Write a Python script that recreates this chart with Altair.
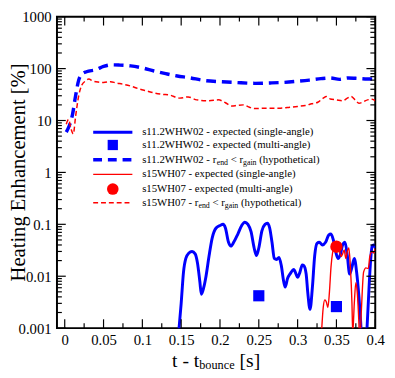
import altair as alt
import pandas as pd

FONT = "Liberation Serif"
W, H = 325, 318
BLUE = "#0000ff"
RED = "#ff0000"

# ---------------- data ----------------
# s11.2WHW02 - r_end < r_gain (hypothetical)
blue_dash_t = [0.002, 0.006, 0.010, 0.014, 0.018, 0.022, 0.028, 0.040, 0.050, 0.060, 0.070, 0.085,
               0.100, 0.115, 0.130, 0.145, 0.160, 0.180, 0.200, 0.220, 0.245, 0.265, 0.280, 0.300,
               0.315, 0.330, 0.342, 0.354, 0.365, 0.375, 0.390, 0.398]
blue_dash_v = [6, 8, 13, 30, 60, 78, 87, 95, 110, 118, 117, 113,
               103, 90, 80, 72, 67, 59, 56, 54, 52, 53, 54, 57,
               60, 64, 66, 62, 66, 65, 63, 63]

# s15WH07 - r_end < r_gain (hypothetical)
red_dash_t = [0.002, 0.005, 0.008, 0.011, 0.014, 0.018, 0.022, 0.027, 0.031, 0.036, 0.043, 0.050,
              0.059, 0.066, 0.075, 0.085, 0.095, 0.106, 0.115, 0.125, 0.135, 0.148, 0.159, 0.170,
              0.186, 0.198, 0.207, 0.215, 0.222, 0.230, 0.238, 0.245, 0.258, 0.278, 0.290, 0.300,
              0.310, 0.318, 0.326, 0.333, 0.337, 0.342, 0.350, 0.358, 0.364, 0.369, 0.374, 0.379,
              0.385, 0.390, 0.396, 0.400]
red_dash_v = [8.5, 10.5, 7, 5.5, 12, 30, 48, 58, 63, 58, 55, 54,
              56, 53, 50, 46, 41, 37, 34, 32, 31, 27, 28.5, 25,
              24, 25, 22, 19, 19.5, 20, 18, 17, 17.3, 17.3, 18, 18.7,
              19.5, 21, 22.5, 27, 29, 26, 25, 24, 27, 29, 25, 21.5,
              23, 25, 25.6, 24]

# s11.2WHW02 - expected (single-angle)
blue_t = [0.146, 0.150, 0.153, 0.156, 0.160, 0.164, 0.168, 0.171, 0.174, 0.176, 0.179, 0.182,
          0.186, 0.190, 0.195, 0.200, 0.204, 0.207, 0.211, 0.214, 0.218, 0.223, 0.228, 0.232,
          0.236, 0.240, 0.244, 0.247, 0.250, 0.254, 0.258, 0.261, 0.264, 0.267, 0.270, 0.273,
          0.276, 0.279, 0.282, 0.284, 0.287, 0.291, 0.295, 0.298, 0.300, 0.303, 0.306, 0.308,
          0.311, 0.313, 0.316, 0.319, 0.322, 0.325, 0.328, 0.332, 0.336, 0.340, 0.343, 0.346,
          0.349, 0.352, 0.355, 0.358, 0.361, 0.364, 0.367, 0.370, 0.373, 0.376, 0.379, 0.381,
          0.383, 0.388, 0.390, 0.392, 0.394, 0.396, 0.398, 0.400]
blue_v = [0.0006, 0.003, 0.012, 0.022, 0.028, 0.030, 0.027, 0.018, 0.008, 0.0045, 0.006, 0.010,
          0.025, 0.055, 0.085, 0.095, 0.100, 0.085, 0.045, 0.038, 0.046, 0.065, 0.095, 0.110,
          0.100, 0.072, 0.035, 0.025, 0.035, 0.075, 0.100, 0.105, 0.085, 0.045, 0.022, 0.021,
          0.023, 0.016, 0.008, 0.0062, 0.009, 0.0115, 0.0135, 0.011, 0.0095, 0.012, 0.0165, 0.016,
          0.011, 0.005, 0.0023, 0.006, 0.025, 0.043, 0.045, 0.040, 0.045, 0.062, 0.065, 0.050,
          0.030, 0.022, 0.026, 0.040, 0.045, 0.025, 0.011, 0.015, 0.022, 0.012, 0.004, 0.0015,
          0.0005, 0.0005, 0.0015, 0.006, 0.020, 0.038, 0.040, 0.035]

# s15WH07 - expected (single-angle)
red_t = [0.330, 0.333, 0.335, 0.337, 0.339, 0.341, 0.343, 0.345, 0.347, 0.350, 0.353, 0.356,
         0.358, 0.360, 0.362, 0.364, 0.366, 0.368, 0.370, 0.371, 0.373, 0.375, 0.377, 0.379,
         0.380, 0.382, 0.385, 0.388, 0.391, 0.393, 0.396, 0.398, 0.400]
red_v = [0.0005, 0.0025, 0.0035, 0.0032, 0.0025, 0.005, 0.015, 0.028, 0.036, 0.040, 0.035, 0.024,
         0.027, 0.032, 0.022, 0.030, 0.035, 0.015, 0.003, 0.0008, 0.003, 0.0075, 0.0045, 0.0012,
         0.0005, 0.002, 0.012, 0.0145, 0.014, 0.024, 0.030, 0.028, 0.034]

# multi-angle markers
blue_sq_t = [0.25, 0.35]
blue_sq_v = [0.0042, 0.0026]
red_circ_t = [0.35]
red_circ_v = [0.037]

# ticks
x_major = [0, 0.05, 0.1, 0.15, 0.2, 0.25, 0.3, 0.35, 0.4]
x_minor = [0.025, 0.075, 0.125, 0.175, 0.225, 0.275, 0.325, 0.375]
y_major = [0.001, 0.01, 0.1, 1, 10, 100, 1000]
y_minor = [k * 10.0 ** e for e in range(-3, 3) for k in range(2, 10)]

legend_rows = [
    ["s11.2WHW02 - expected (single-angle)"],
    ["s11.2WHW02 - expected (multi-angle)"],
    ["s11.2WHW02 - r", "end", " < r", "gain", " (hypothetical)"],
    ["s15WH07 - expected (single-angle)"],
    ["s15WH07 - expected (multi-angle)"],
    ["s15WH07 - r", "end", " < r", "gain", " (hypothetical)"],
]

# ---------------- helpers ----------------
TIMES = {" ": 250, "s": 389, "1": 500, ".": 250, "2": 500, "W": 944, "H": 722, "0": 500,
         "-": 333, "r": 333, "e": 444, "n": 500, "d": 500, "<": 564, "g": 500, "a": 444,
         "i": 278, "(": 333, ")": 333, "h": 500, "y": 500, "p": 500, "o": 500, "t": 278,
         "c": 444, "l": 278, "5": 500, "7": 500, "x": 500, "m": 778, "u": 500, "b": 500,
         "[": 333, "]": 333, "%": 833, "E": 611}


def tw(s, fs):
    return sum(TIMES.get(c, 500) for c in s) * fs / 1000.0


one = pd.DataFrame({"a": [0]})
xs = alt.Scale(domain=[-0.01, 0.4], nice=False, zero=False)
ys = alt.Scale(type="log", domain=[0.001, 1000], nice=False)
XAX = alt.Axis(values=x_major, format="~g", title=None, labelFlush=False, labelPadding=5,
               labelOverlap=False, ticks=False, domain=False, grid=False, tickSize=0,
               labelFont=FONT, labelFontSize=15, labelColor="black")
YAX = alt.Axis(values=y_major, format="~g", title=None, labelFlush=False, labelPadding=6,
               labelOverlap=False, ticks=False, domain=False, grid=False, tickSize=0,
               labelFont=FONT, labelFontSize=15, labelColor="black")


def XE(field="t"):
    return alt.X(f"{field}:Q", scale=xs, axis=XAX, title=None)


def YE(field="v"):
    return alt.Y(f"{field}:Q", scale=ys, axis=YAX, title=None)


def txt(s, x, y, fs, **kw):
    return alt.Chart(one).mark_text(text=s, font=FONT, fontSize=fs, color="black",
                                    align=kw.pop("align", "left"),
                                    baseline=kw.pop("baseline", "middle"), **kw).encode(
        x=alt.value(x), y=alt.value(y))


def segments(parts, x0, y, fs, sub_fs, sub_dy, main_idx=(0, 2, 4)):
    out = []
    x = x0
    for i, p in enumerate(parts):
        size = fs if i in main_idx else sub_fs
        dy = 0 if i in main_idx else sub_dy
        lead = len(p) - len(p.lstrip(" "))
        xx = x + tw(" " * lead, size)
        out.append(txt(p.lstrip(" "), xx, y + dy, size))
        x += tw(p, size)
    return out


def line_df(t, v):
    return pd.DataFrame({"t": t, "v": v})


layers = []
layers.append(alt.Chart(line_df(blue_dash_t, blue_dash_v)).mark_line(
    color=BLUE, strokeWidth=3.5, strokeDash=[10, 6], clip=True, interpolate="monotone").encode(
    x=XE(), y=YE()))
layers.append(alt.Chart(line_df(red_dash_t, red_dash_v)).mark_line(
    color=RED, strokeWidth=1.5, strokeDash=[5, 3], clip=True, interpolate="monotone").encode(
    x=XE(), y=YE()))
layers.append(alt.Chart(line_df(blue_t, blue_v)).mark_line(
    color=BLUE, strokeWidth=3, clip=True, interpolate="monotone").encode(x=XE(), y=YE()))
layers.append(alt.Chart(line_df(red_t, red_v)).mark_line(
    color=RED, strokeWidth=1.4, clip=True, interpolate="monotone").encode(x=XE(), y=YE()))
layers.append(alt.Chart(line_df(blue_sq_t, blue_sq_v)).mark_point(
    shape="square", filled=True, size=130, color=BLUE, opacity=1).encode(x=XE(), y=YE()))
layers.append(alt.Chart(line_df(red_circ_t, red_circ_v)).mark_circle(
    size=160, color=RED, opacity=1).encode(x=XE(), y=YE()))

# inward ticks on all four sides
xmaj = pd.DataFrame({"t": x_major})
xmin = pd.DataFrame({"t": x_minor})
ymaj = pd.DataFrame({"v": y_major})
ymin = pd.DataFrame({"v": y_minor})
TK = dict(color="black", strokeWidth=1.2)
for df, L in ((xmaj, 9), (xmin, 5)):
    layers.append(alt.Chart(df).mark_rule(**TK).encode(x=XE(), y=alt.value(H), y2=alt.value(H - L)))
    layers.append(alt.Chart(df).mark_rule(**TK).encode(x=XE(), y=alt.value(0), y2=alt.value(L)))
for df, L in ((ymaj, 9), (ymin, 5)):
    layers.append(alt.Chart(df).mark_rule(**TK).encode(y=YE(), x=alt.value(0), x2=alt.value(L)))
    layers.append(alt.Chart(df).mark_rule(**TK).encode(y=YE(), x=alt.value(W), x2=alt.value(W - L)))

# legend
row_y = [118, 131, 146, 161, 176, 190]
lx0, lx1, ltx = 37, 77, 87
styles = [
    ("line", BLUE, 3, None),
    ("square", BLUE, None, None),
    ("line", BLUE, 3.5, [9, 6]),
    ("line", RED, 1.4, None),
    ("circle", RED, None, None),
    ("line", RED, 1.5, [5, 3]),
]
for (kind, col, sw, dash), ry, parts in zip(styles, row_y, legend_rows):
    if kind == "line":
        kw = dict(color=col, strokeWidth=sw)
        if dash:
            kw["strokeDash"] = dash
        layers.append(alt.Chart(one).mark_rule(**kw).encode(
            x=alt.value(lx0), x2=alt.value(lx1), y=alt.value(ry)))
    elif kind == "square":
        layers.append(alt.Chart(one).mark_point(shape="square", filled=True, size=110,
                                                color=col, opacity=1).encode(
            x=alt.value((lx0 + lx1) / 2), y=alt.value(ry)))
    else:
        layers.append(alt.Chart(one).mark_circle(size=140, color=col, opacity=1).encode(
            x=alt.value((lx0 + lx1) / 2), y=alt.value(ry)))
    layers.extend(segments(parts, ltx, ry, 11, 8, 3))

# axis titles
layers.append(txt("Heating Enhancement [%]", -33, H / 2, 21, angle=270,
                  align="center", baseline="alphabetic"))
xt_parts = ["t - t", "bounce", " [s]"]
xt_w = tw(xt_parts[0], 20) + tw(xt_parts[1], 12.5) + tw(xt_parts[2], 20)
xt0 = W / 2 - xt_w / 2
layers.extend(segments(xt_parts, xt0, 352, 20, 12.5, 4, main_idx=(0, 2)))

chart = alt.layer(*layers).properties(
    width=W, height=H, autosize="none",
    padding={"left": 50, "top": 5, "right": 12, "bottom": 45},
).configure_view(stroke="black", strokeWidth=2).configure_axis(
    labelFont=FONT, labelFontSize=15, labelColor="black")

chart.save("out.html", embed_options={"renderer": "svg", "actions": False})
